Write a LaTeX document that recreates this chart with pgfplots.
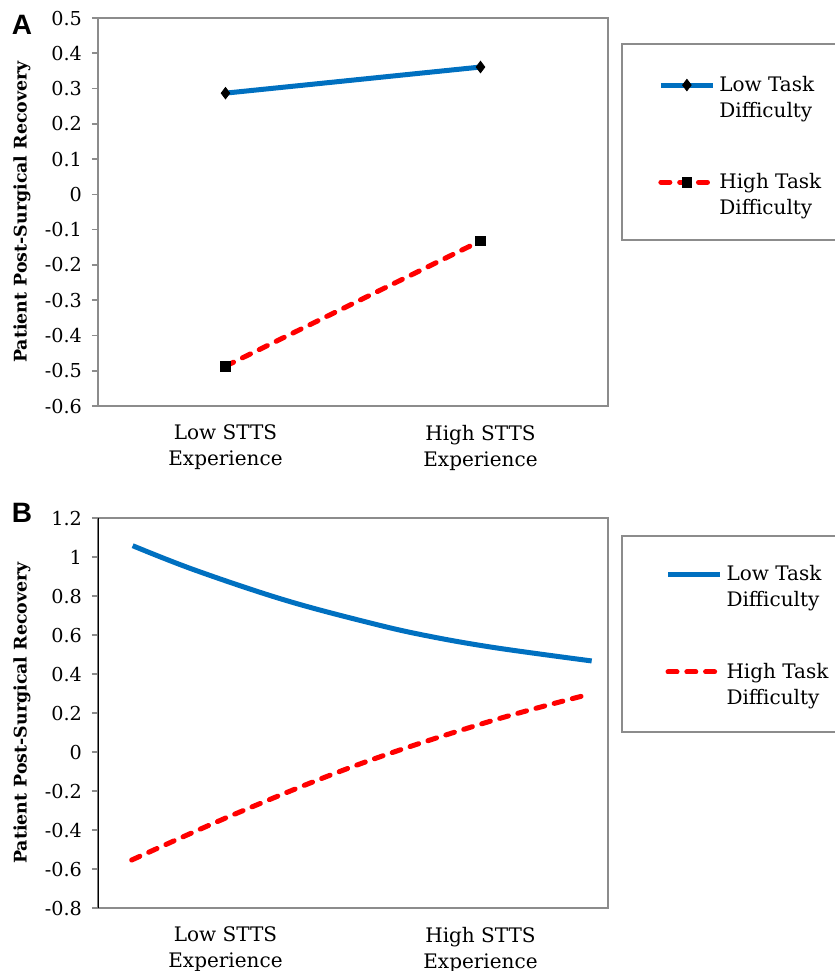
\documentclass[border=0pt]{standalone}
\usepackage{fontspec}
\setmainfont{DejaVu Serif}
\newfontfamily\letterfont{Liberation Sans}
\usepackage{pgfplots}
\pgfplotsset{compat=1.18}

\definecolor{xlblue}{HTML}{0070C0}
\definecolor{xlred}{HTML}{FF0000}
\definecolor{frame}{HTML}{8C8C8C}

% Panel B curves
\pgfplotstableread{
x      y
0.136  1.058
0.380  0.933
0.733  0.779
1.073  0.660
1.294  0.595
1.557  0.535
1.936  0.467
}\lowB
\pgfplotstableread{
x      y
0.132  -0.554
0.550  -0.311
1.034  -0.058
1.531   0.155
1.929   0.297
}\highB

\pgfplotsset{
  panel/.style={
    scale only axis, width=255pt, height=194pt,
    xmin=0, xmax=2,
    xtick={0.5,1.5},
    xticklabels={{Low STTS\\Experience},{High STTS\\Experience}},
    xticklabel style={align=center, font=\fontsize{10}{13}\selectfont, yshift=-3pt},
    xtick style={draw=none},
    ytick pos=left, tick align=outside, major tick length=3pt,
    ytick style={draw=frame, line width=0.8pt},
    yticklabel style={font=\fontsize{9.6}{11}\selectfont, xshift=-1.5pt},
    axis line style={draw=frame, line width=0.8pt},
    ylabel={Patient Post-Surgical Recovery},
    every axis y label/.style={at={(rel axis cs:0,0.5)}, xshift=-38pt,
      rotate=90, anchor=center, font=\bfseries\fontsize{8.7}{10}\selectfont},
    legend cell align=left,
    legend style={draw=none, fill=none, inner sep=0pt, row sep=22.5pt, column sep=0pt,
      cells={align=left, inner xsep=1pt}, font=\fontsize{10}{13}\selectfont},
    legend image code/.code={%
      \draw[mark repeat=2,mark phase=2,yshift=6.5pt,#1] plot coordinates {(0pt,0pt) (13pt,0pt) (26pt,0pt)};},
  },
  lowline/.style={color=xlblue, line width=2.5pt},
  highline/.style={color=xlred, line width=2.5pt, line cap=round, dash pattern=on 4.5pt off 4.9pt},
}

\begin{document}
\begin{tikzpicture}
\useasboundingbox (0,0) rectangle (417.5pt,-485.5pt);

% ---------- A ----------
\begin{axis}[panel, at={(49pt,-203pt)}, anchor=south west,
  ymin=-0.6, ymax=0.5,
  ytick={-0.6,-0.5,-0.4,-0.3,-0.2,-0.1,0,0.1,0.2,0.3,0.4,0.5},
  yticklabels={-0.6,-0.5,-0.4,-0.3,-0.2,-0.1,0,0.1,0.2,0.3,0.4,0.5},
  legend style={at={(rel axis cs:1.098,0.862)}, anchor=north west},
]
\addplot[lowline, mark=diamond*, mark options={solid, fill=black, draw=black, line width=0.4pt, scale=1.1}, mark size=2.6pt]
  coordinates {(0.5,0.287) (1.5,0.361)};
\addlegendentry{Low Task\\Difficulty}
\addplot[highline, mark=square*, mark options={solid, fill=black, draw=black, line width=0.4pt}, mark size=2.4pt]
  coordinates {(0.5,-0.487) (1.5,-0.132)};
\addlegendentry{High Task\\Difficulty}
\end{axis}

% ---------- B ----------
\begin{axis}[panel, at={(49pt,-454pt)}, anchor=south west, height=195pt,
  ymin=-0.8, ymax=1.2,
  ytick={-0.8,-0.6,-0.4,-0.2,0,0.2,0.4,0.6,0.8,1,1.2},
  yticklabels={-0.8,-0.6,-0.4,-0.2,0,0.2,0.4,0.6,0.8,1,1.2},
  legend style={at={(rel axis cs:1.112,0.889)}, anchor=north west},
]
\draw[black, line width=0.8pt] (rel axis cs:0,0) -- (rel axis cs:0,1);
\addplot[lowline, smooth, tension=0.6] table {\lowB};
\addlegendentry{Low Task\\Difficulty}
\addplot[highline, smooth, tension=0.6] table {\highB};
\addlegendentry{High Task\\Difficulty}
\end{axis}

% legend frames and panel letters
\draw[frame, line width=0.7pt] (311pt,-22pt) rectangle (420pt,-120pt);
\draw[frame, line width=0.7pt] (311pt,-268pt) rectangle (420pt,-366pt);
\node[font=\letterfont\bfseries\fontsize{14}{14}\selectfont] at (11pt,-12.5pt) {A};
\node[font=\letterfont\bfseries\fontsize{14}{14}\selectfont] at (11pt,-256.5pt) {B};
\end{tikzpicture}
\end{document}
